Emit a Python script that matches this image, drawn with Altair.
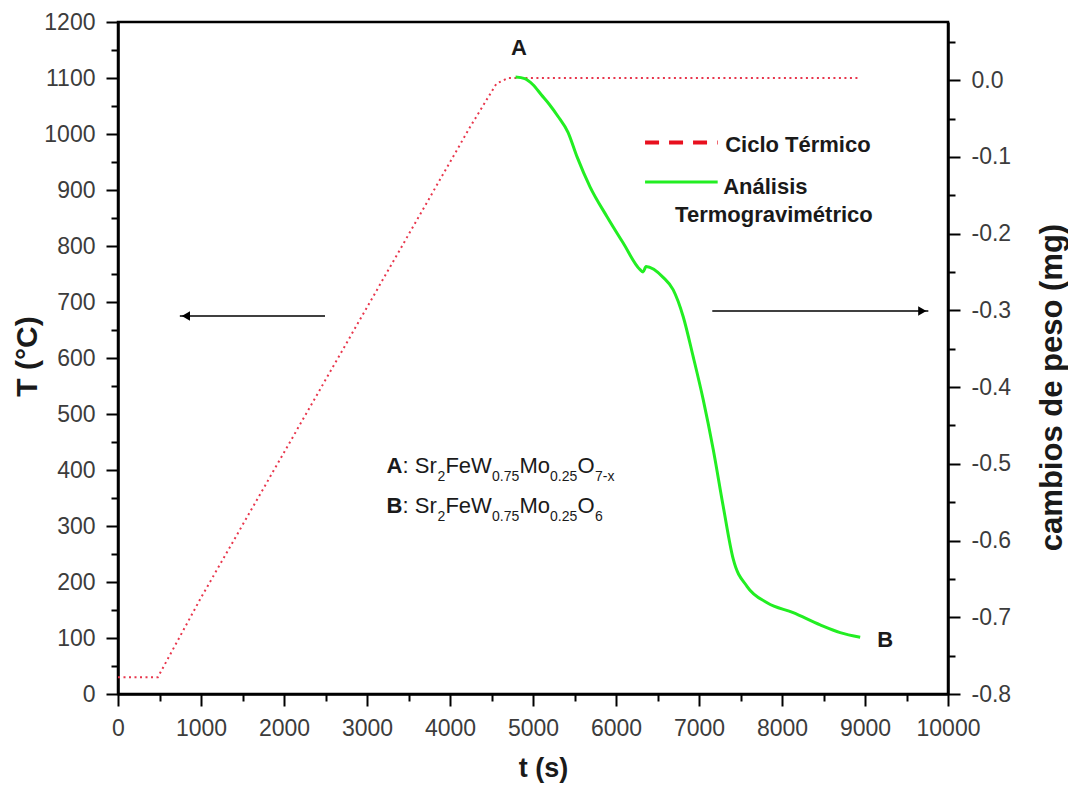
import altair as alt
import pandas as pd

FONT = "Liberation Sans"

# ---- data ----
# Thermal cycle (red dotted): time (s) vs temperature (°C)
cycle_t = [0, 480, 1000, 4240, 4560, 4700, 8920]
cycle_T = [30, 30, 172, 1012, 1090, 1100, 1100]

# Thermogravimetric analysis (green): time (s) vs weight change (mg)
tga_t = [4790, 4900, 5000, 5100, 5200, 5300, 5422, 5531, 5687, 5892, 6085, 6290, 6326,
         6362, 6568, 6688, 6809, 6929, 7050, 7171, 7291, 7412, 7580, 7821, 8135, 8460,
         8701, 8942]
tga_w = [0.004, 0.002, -0.006, -0.019, -0.032, -0.047, -0.068, -0.100, -0.139, -0.178,
         -0.212, -0.247, -0.250, -0.243, -0.257, -0.273, -0.308, -0.360, -0.416, -0.481,
         -0.555, -0.624, -0.660, -0.681, -0.694, -0.710, -0.720, -0.726]

x_major = list(range(0, 10001, 1000))
x_minor = list(range(500, 10000, 1000))
T_major = list(range(0, 1201, 100))
T_minor = list(range(50, 1200, 100))
w_major = [round(-0.8 + 0.1 * i, 1) for i in range(9)]
w_minor = [round(-0.75 + 0.1 * i, 2) for i in range(9)]

# annotations (data coordinates)
label_text = ["A", "B"]
label_t = [4831, 9244]
label_T = [1153, 96]

legend_text = ["Ciclo Térmico", "Análisis", "Termogravimétrico"]
legend_text_t = [7315, 7291, 6712]
legend_text_T = [967.6, 893.6, 843]

formula_bold = ["A", "B"]
formula_bold_t = [3236, 3236]
formula_T = [393.9, 322.5]
formula_main_text = [": Sr", "FeW", "Mo", "O", ": Sr", "FeW", "Mo", "O"]
formula_main_t = [3428, 3945, 4837, 5537, 3428, 3945, 4837, 5537]
formula_sub_text = ["2", "0.75", "0.25", "7-x", "2", "0.75", "0.25", "6"]
formula_sub_t = [3848, 4506, 5205, 5748, 3848, 4506, 5205, 5748]

# ---- frames ----
df_cycle = pd.DataFrame({"t": cycle_t, "T": cycle_T})
df_tga = pd.DataFrame({"t": tga_t, "w": tga_w})
df_labels = pd.DataFrame({"t": label_t, "T": label_T, "text": label_text})
df_legend_text = pd.DataFrame({"t": legend_text_t, "T": legend_text_T, "text": legend_text})
df_leg_red = pd.DataFrame({"t": [6350], "t2": [7225], "T": [984.6]})
df_leg_green = pd.DataFrame({"t": [6350], "t2": [7225], "T": [914.3]})
df_fb = pd.DataFrame({"t": formula_bold_t, "T": formula_T, "text": formula_bold})
df_fm = pd.DataFrame({"t": formula_main_t, "T": [formula_T[0]] * 4 + [formula_T[1]] * 4,
                      "text": formula_main_text})
df_fs = pd.DataFrame({"t": formula_sub_t, "T": [formula_T[0]] * 4 + [formula_T[1]] * 4,
                      "text": formula_sub_text})
df_arrow_l = pd.DataFrame({"t": [745], "t2": [2494], "T": [675]})
df_arrow_r = pd.DataFrame({"t": [7160], "t2": [9763], "T": [684]})
df_head_l = pd.DataFrame({"t": [818], "T": [675]})
df_head_r = pd.DataFrame({"t": [9690], "T": [684]})
df_xminor = pd.DataFrame({"t": x_minor, "T": [0] * len(x_minor)})
df_Tminor = pd.DataFrame({"t": [0] * len(T_minor), "T": T_minor})
df_wminor = pd.DataFrame({"t": [0] * len(w_minor), "w": w_minor})

# ---- scales & axes ----
x_scale = alt.Scale(domain=[0, 10000], nice=False, zero=False)
T_scale = alt.Scale(domain=[0, 1200], nice=False, zero=False)
w_scale = alt.Scale(domain=[-0.8, 0.0758], nice=False, zero=False)

common = dict(grid=False, domainColor="black", domainWidth=2.5, tickColor="black",
              tickWidth=2, labelFont=FONT, labelFontSize=23, labelColor="#3c3c3c",
              titleFont=FONT, titleFontWeight="bold", titleColor="#1a1a1a",
              labelFlush=False, labelOverlap=False, labelBound=False)

x_axis = alt.Axis(values=x_major, orient="bottom", title="t (s)", tickSize=12, format="d",
                  labelPadding=11, titleFontSize=27, titleX=425, titleY=74,
                  titleBaseline="middle", titleAlign="center", **common)
x_minor_axis = alt.Axis(values=x_minor, orient="bottom", title=None, tickSize=7,
                        labels=False, domain=False, grid=False, tickColor="black",
                        tickWidth=2)
T_axis = alt.Axis(values=T_major, orient="left", title="T (°C)", tickSize=12, format="d",
                  labelPadding=11, titleFontSize=30, titleAngle=270, titleX=-91,
                  titleY=334, titleBaseline="middle", titleAlign="center", **common)
T_minor_axis = alt.Axis(values=T_minor, orient="left", title=None, tickSize=7,
                        labels=False, domain=False, grid=False, tickColor="black",
                        tickWidth=2)
w_axis = alt.Axis(values=w_major, orient="right", title="cambios de peso (mg)",
                  tickSize=12, labelPadding=11, titleFontSize=31, titleAngle=270,
                  titleX=104, titleY=365, titleBaseline="middle", titleAlign="center",
                  labelExpr="(datum.value < -0.001 ? '-' : '') + format(abs(datum.value), '.1f')",
                  **common)
w_minor_axis = alt.Axis(values=w_minor, orient="right", title=None, tickSize=7,
                        labels=False, domain=False, grid=False, tickColor="black",
                        tickWidth=2)

X = lambda axis=None: alt.X("t:Q", scale=x_scale, axis=axis)
XN = alt.X("t:Q", scale=x_scale, axis=None)
YT = alt.Y("T:Q", scale=T_scale, axis=None)

red = alt.Chart(df_cycle).mark_line(color="#e8364c", strokeDash=[2, 3.5], strokeWidth=2).encode(
    x=X(x_axis), y=alt.Y("T:Q", scale=T_scale, axis=T_axis))

x_minor_layer = alt.Chart(df_xminor).mark_point(opacity=0).encode(
    x=X(x_minor_axis), y=YT)
T_minor_layer = alt.Chart(df_Tminor).mark_point(opacity=0).encode(
    x=XN, y=alt.Y("T:Q", scale=T_scale, axis=T_minor_axis))

green = alt.Chart(df_tga).mark_line(color="#22ee22", strokeWidth=3,
                                     interpolate="monotone").encode(
    x=XN, y=alt.Y("w:Q", scale=w_scale, axis=w_axis))
w_minor_layer = alt.Chart(df_wminor).mark_point(opacity=0).encode(
    x=XN, y=alt.Y("w:Q", scale=w_scale, axis=w_minor_axis))

labels = alt.Chart(df_labels).mark_text(font=FONT, fontSize=22, fontWeight="bold",
                                         color="#1a1a1a", baseline="middle",
                                         align="center").encode(
    x=XN, y=YT, text="text:N")

leg_text = alt.Chart(df_legend_text).mark_text(font=FONT, fontSize=22, fontWeight="bold",
                                               color="#1a1a1a", baseline="alphabetic",
                                               align="left").encode(
    x=XN, y=YT, text="text:N")
leg_red = alt.Chart(df_leg_red).mark_rule(color="#e8101e", strokeWidth=4,
                                          strokeDash=[14, 10]).encode(
    x=XN, x2="t2:Q", y=YT)
leg_green = alt.Chart(df_leg_green).mark_rule(color="#22ee22", strokeWidth=3).encode(
    x=XN, x2="t2:Q", y=YT)

f_bold = alt.Chart(df_fb).mark_text(font=FONT, fontSize=22, fontWeight="bold",
                                    color="#1a1a1a", baseline="alphabetic",
                                    align="left").encode(x=XN, y=YT, text="text:N")
f_main = alt.Chart(df_fm).mark_text(font=FONT, fontSize=22, color="#1a1a1a",
                                    baseline="alphabetic", align="left").encode(
    x=XN, y=YT, text="text:N")
f_sub = alt.Chart(df_fs).mark_text(font=FONT, fontSize=14, color="#1a1a1a",
                                   baseline="alphabetic", align="left", dy=8).encode(
    x=XN, y=YT, text="text:N")

arrow_l = alt.Chart(df_arrow_l).mark_rule(color="black", strokeWidth=1.5).encode(
    x=XN, x2="t2:Q", y=YT)
arrow_r = alt.Chart(df_arrow_r).mark_rule(color="black", strokeWidth=1.5).encode(
    x=XN, x2="t2:Q", y=YT)
head_l = alt.Chart(df_head_l).mark_point(shape="triangle-left", size=90, filled=True,
                                         color="black", opacity=1).encode(x=XN, y=YT)
head_r = alt.Chart(df_head_r).mark_point(shape="triangle-right", size=90, filled=True,
                                         color="black", opacity=1).encode(x=XN, y=YT)

chart = alt.layer(
    red, x_minor_layer, T_minor_layer, green, w_minor_layer, labels, leg_text,
    leg_red, leg_green, f_bold, f_main, f_sub, arrow_l, arrow_r, head_l, head_r
).resolve_scale(y="independent").resolve_axis(x="independent", y="independent").properties(
    width=830, height=672,
    padding={"left": 118, "top": 22, "right": 120, "bottom": 96},
    autosize=alt.AutoSizeParams(type="none"),
    background="white",
).configure_view(stroke="black", strokeWidth=2.5)

chart.save("out.html", embed_options={"renderer": "svg", "actions": False})
